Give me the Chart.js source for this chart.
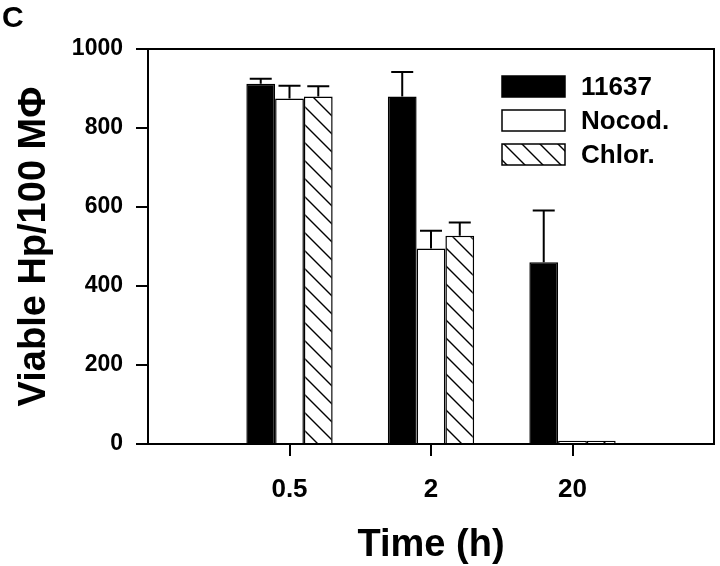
<!DOCTYPE html>
<html>
<head>
    <title>Viable Hp per 100 macrophages</title>
    <script src="https://cdn.jsdelivr.net/npm/chart.js@4.4.0/dist/chart.umd.min.js"></script>
    <style>
        body { margin: 0; background: #fff; overflow: hidden; }
        canvas { display: block; }
    </style>
</head>
<body>
    <canvas id="barChart" width="720" height="566"></canvas>

    <script>
        // Data
        var timeLabels = ['', '0.5', '2', '20', ''];
        var seriesNames = ['11637', 'Nocod.', 'Chlor.'];
        var strain11637 = [null, 912, 880, 460, null];
        var nocodazole = [null, 875, 495, 8, null];
        var chloroquine = [null, 880, 527, 8, null];
        var err11637 = [null, 13, 62, 131, null];
        var errNocod = [null, 32, 45, 0, null];
        var errChlor = [null, 26, 34, 0, null];
        var yTicks = [0, 200, 400, 600, 800, 1000];

        var FONT = "'Liberation Sans', Arial, Helvetica, sans-serif";

        var canvas = document.getElementById('barChart');
        var ctx = canvas.getContext('2d');

        // Diagonal hatch for the chloroquine bars
        function makeHatch() {
            var tile = document.createElement('canvas');
            tile.width = 18;
            tile.height = 18;
            var g = tile.getContext('2d');
            g.fillStyle = '#fff';
            g.fillRect(0, 0, 18, 18);
            g.strokeStyle = '#000';
            g.lineWidth = 1.4;
            g.beginPath();
            g.moveTo(-2, -2); g.lineTo(20, 20);
            g.moveTo(-2, 16); g.lineTo(2, 20);
            g.moveTo(16, -2); g.lineTo(20, 2);
            g.stroke();
            return ctx.createPattern(tile, 'repeat');
        }
        var hatch = makeHatch();

        // Upward error bars with caps
        var errorBars = {
            id: 'errorBars',
            afterDatasetsDraw: function (chart) {
                var c = chart.ctx;
                var yScale = chart.scales.y;
                c.save();
                c.strokeStyle = '#000';
                c.lineWidth = 2;
                chart.data.datasets.forEach(function (ds, i) {
                    var meta = chart.getDatasetMeta(i);
                    meta.data.forEach(function (bar, j) {
                        var v = ds.data[j];
                        var e = ds.errors[j];
                        if (v == null || !e) return;
                        var yTop = yScale.getPixelForValue(v + e);
                        c.beginPath();
                        c.moveTo(bar.x, bar.y);
                        c.lineTo(bar.x, yTop);
                        c.moveTo(bar.x - 11, yTop);
                        c.lineTo(bar.x + 11, yTop);
                        c.stroke();
                    });
                });
                c.restore();
            }
        };

        // Frame, panel letter and legend inside the plot
        var decorations = {
            id: 'decorations',
            afterDraw: function (chart) {
                var c = chart.ctx;
                var a = chart.chartArea;
                c.save();
                c.strokeStyle = '#000';
                c.lineWidth = 2;
                c.beginPath();
                c.moveTo(a.left, a.top);
                c.lineTo(a.right, a.top);
                c.lineTo(a.right, a.bottom);
                c.stroke();

                c.fillStyle = '#000';
                c.font = 'bold 30px ' + FONT;
                c.textBaseline = 'alphabetic';
                c.textAlign = 'left';
                c.fillText('C', 2, 27);

                var boxX = 502, boxY = 76, boxW = 63, boxH = 21, rowH = 34;
                c.font = 'bold 26px ' + FONT;
                c.textBaseline = 'middle';
                chart.data.datasets.forEach(function (ds, i) {
                    var y = boxY + i * rowH;
                    c.fillStyle = ds.backgroundColor;
                    c.fillRect(boxX, y, boxW, boxH);
                    c.lineWidth = 1.5;
                    c.strokeStyle = '#000';
                    c.strokeRect(boxX, y, boxW, boxH);
                    c.fillStyle = '#000';
                    c.fillText(ds.label, boxX + 79, y + boxH / 2 + 1);
                });
                c.restore();
            }
        };

        function hideEdgeTicks(context) {
            var last = timeLabels.length - 1;
            return (context.index === 0 || context.index === last) ? 'rgba(0,0,0,0)' : '#000';
        }

        new Chart(ctx, {
            type: 'bar',
            data: {
                labels: timeLabels,
                datasets: [
                    { label: seriesNames[0], data: strain11637, errors: err11637,
                      backgroundColor: '#000', borderColor: '#000', borderWidth: 1.5 },
                    { label: seriesNames[1], data: nocodazole, errors: errNocod,
                      backgroundColor: '#fff', borderColor: '#000', borderWidth: 1.5 },
                    { label: seriesNames[2], data: chloroquine, errors: errChlor,
                      backgroundColor: hatch, borderColor: '#000', borderWidth: 1.5 }
                ]
            },
            options: {
                responsive: false,
                animation: false,
                maintainAspectRatio: false,
                layout: { padding: { top: 49, right: 6, left: 0, bottom: 0 } },
                datasets: {
                    bar: { categoryPercentage: 0.61, barPercentage: 1.0 }
                },
                plugins: {
                    legend: { display: false },
                    tooltip: { enabled: false }
                },
                scales: {
                    x: {
                        offset: false,
                        grid: {
                            offset: false,
                            drawOnChartArea: false,
                            tickLength: 12,
                            lineWidth: 2,
                            color: hideEdgeTicks
                        },
                        border: { display: true, color: '#000', width: 2 },
                        ticks: {
                            color: '#000',
                            padding: 18,
                            maxRotation: 0,
                            font: { family: FONT, size: 26, weight: 'bold' }
                        },
                        title: {
                            display: true,
                            text: 'Time (h)',
                            color: '#000',
                            padding: { top: 0, bottom: -2 },
                            font: { family: FONT, size: 38, weight: 'bold' }
                        },
                        afterFit: function (scale) {
                            scale.height = 122;
                            scale.paddingLeft = 0;
                            scale.paddingRight = 0;
                        }
                    },
                    y: {
                        min: 0,
                        max: 1000,
                        afterBuildTicks: function (scale) {
                            scale.ticks = yTicks.map(function (v) { return { value: v }; });
                        },
                        grid: {
                            drawOnChartArea: false,
                            tickLength: 12,
                            lineWidth: 2,
                            color: '#000'
                        },
                        border: { display: true, color: '#000', width: 2 },
                        ticks: {
                            color: '#000',
                            padding: 13,
                            callback: function (v) { return String(v); },
                            font: { family: FONT, size: 23, weight: 'bold' }
                        },
                        title: {
                            display: true,
                            text: 'Viable Hp/100 M\u03A6',
                            color: '#000',
                            padding: { top: 12, bottom: 0 },
                            font: { family: FONT, size: 38, weight: 'bold' }
                        },
                        afterFit: function (scale) { scale.width = 148; }
                    }
                }
            },
            plugins: [errorBars, decorations]
        });
    </script>
</body>
</html>
